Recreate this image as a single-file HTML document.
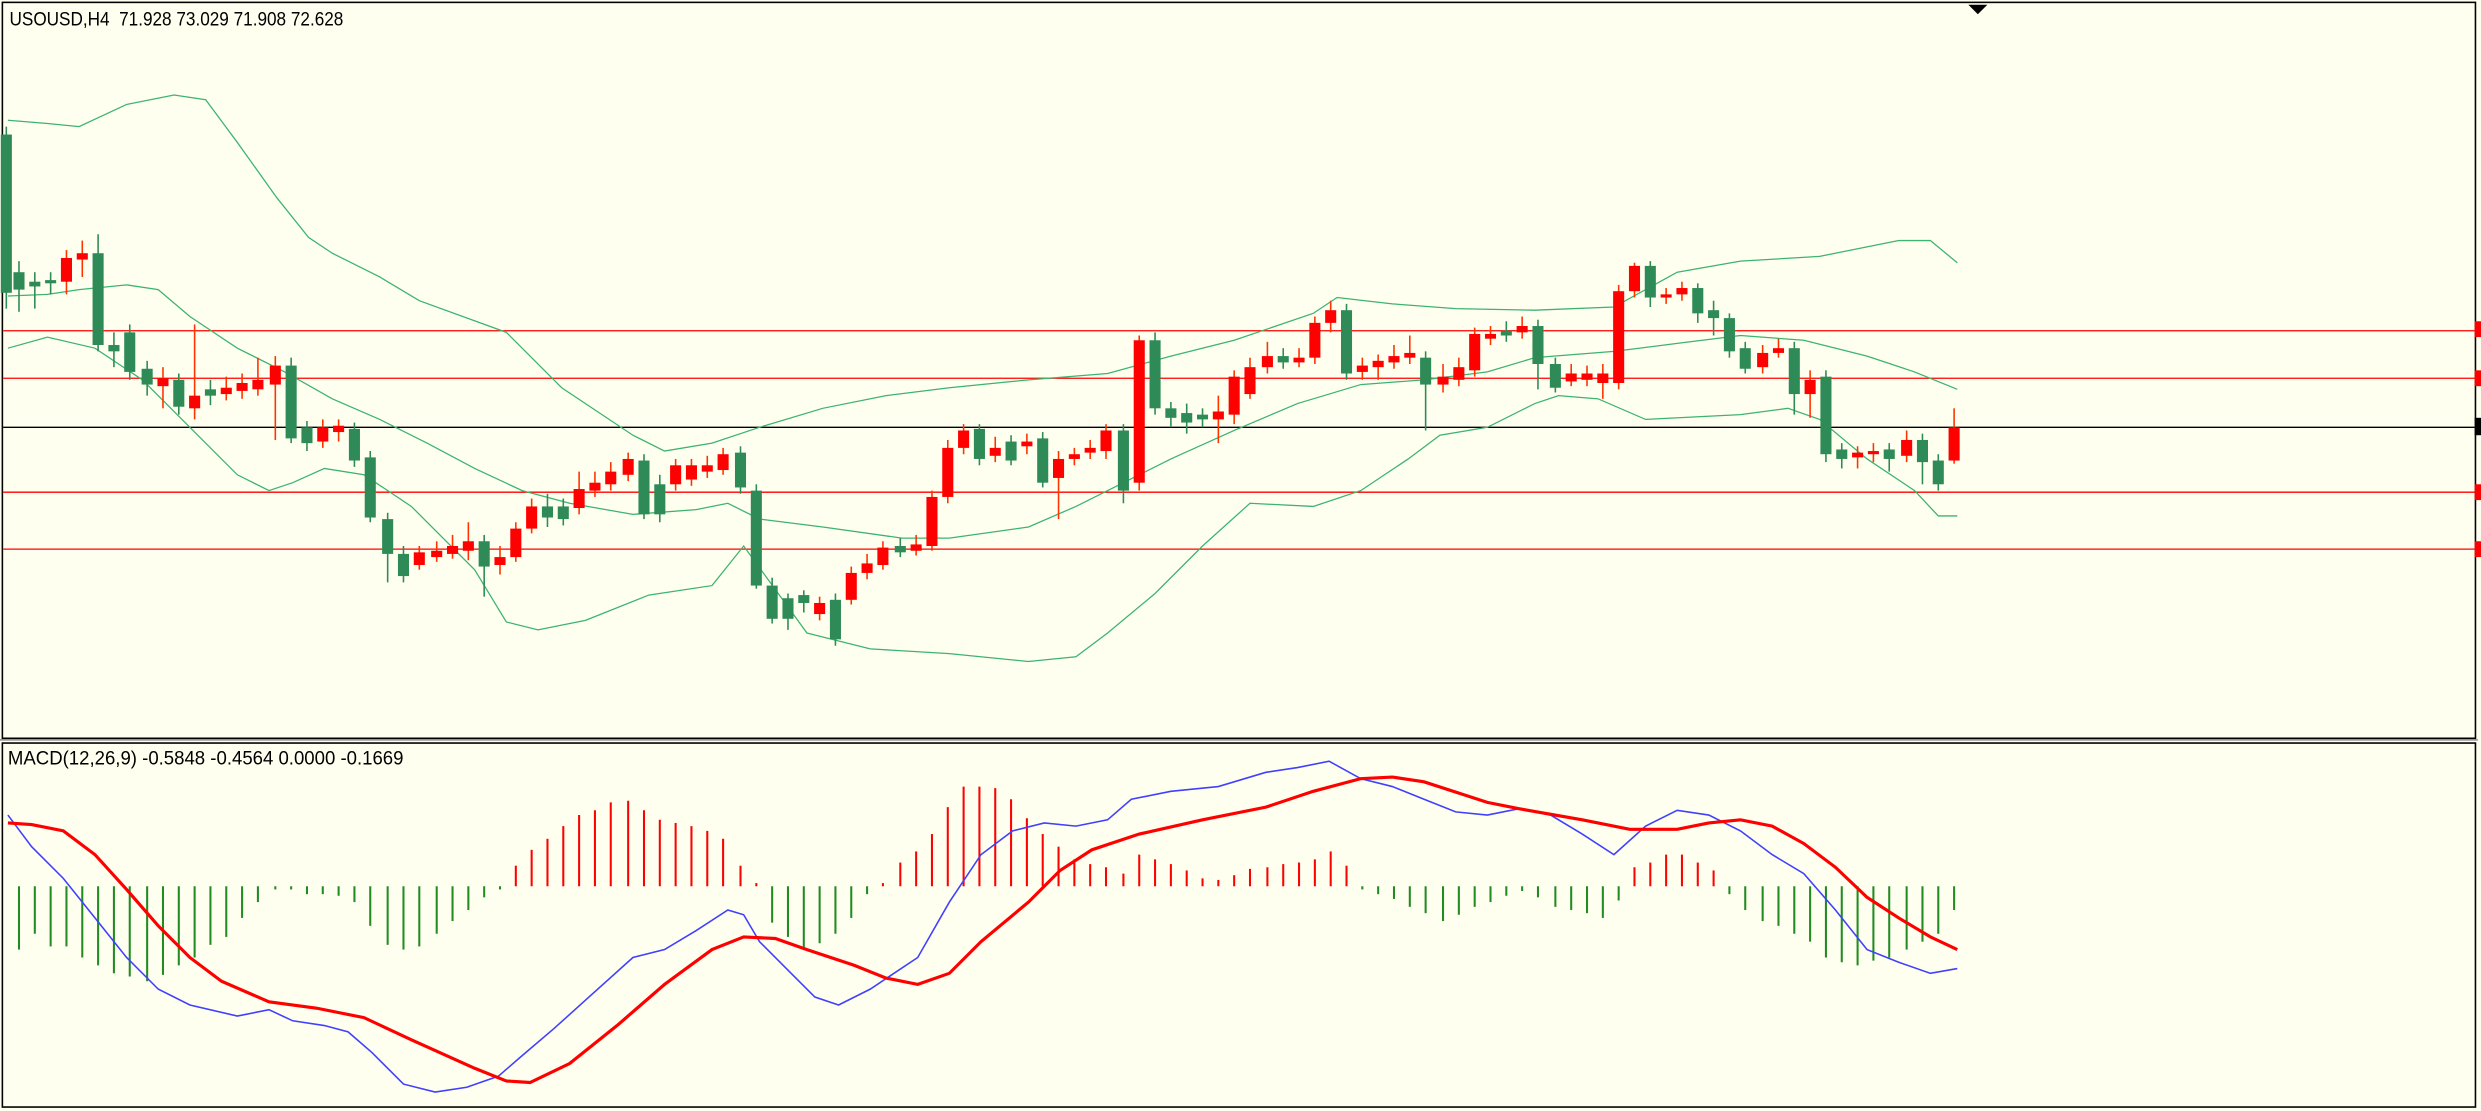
<!DOCTYPE html>
<html><head><meta charset="utf-8"><style>
html,body{margin:0;padding:0;background:#fffff0;}
svg{display:block;}
text{font-family:"Liberation Sans",sans-serif;font-size:12.5px;fill:#000;}
</style></head><body>
<svg id="s" width="2481" height="1111" viewBox="0 0 1568 702" preserveAspectRatio="none" xmlns="http://www.w3.org/2000/svg">
<rect x="0" y="0" width="1568" height="702" fill="#fffff0"/>
<rect x="1.5" y="1.5" width="1563" height="465" fill="none" stroke="#000" stroke-width="1"/>
<rect x="1.5" y="469.5" width="1563" height="230" fill="none" stroke="#000" stroke-width="1"/>
<line x1="0" y1="467.5" x2="1566" y2="467.5" stroke="#888" stroke-width="1"/>
<g stroke="#ff0000" stroke-width="0.8">
<line x1="2" y1="209" x2="1564" y2="209"/><line x1="2" y1="239" x2="1564" y2="239"/>
<line x1="2" y1="311" x2="1564" y2="311"/><line x1="2" y1="347" x2="1564" y2="347"/>
</g>
<line x1="2" y1="270" x2="1564" y2="270" stroke="#000" stroke-width="0.8"/>
<g fill="#ff0000"><rect x="1564" y="203" width="4" height="10"/><rect x="1564" y="234" width="4" height="10"/><rect x="1564" y="306" width="4" height="10"/><rect x="1564" y="342" width="4" height="10"/></g>
<rect x="1564" y="264" width="4" height="11" fill="#000"/>
<polygon points="1244,3 1256,3 1250,9" fill="#000"/>
<g id="bands" fill="none" stroke="#3cb371" stroke-width="0.8">
<polyline points="5,76 30,78 50,80 80,66 110,60 130,63 150,90 175,125 195,150 210,160 240,175 265,190 320,210 355,245 400,275 420,285 450,280 480,270 520,258 560,250 600,245 650,240 700,236 740,225 780,215 830,198 845,188 880,192 920,195 970,196 1020,194 1060,172 1100,165 1150,162 1200,152 1220,152 1237,166"/>
<polyline points="5,187 30,186 50,183 80,180 100,183 120,200 150,220 180,235 210,252 240,265 270,280 300,296 330,310 360,318 400,325 440,322 460,318 480,328 520,333 570,340 600,340 650,333 680,320 710,305 740,290 780,272 820,255 860,243 900,240 940,235 970,226 1020,222 1060,217 1100,212 1140,215 1180,225 1210,235 1237,246"/>
<polyline points="5,220 30,213 60,220 90,240 120,270 150,300 170,310 185,305 205,296 230,300 260,320 300,360 320,393 340,398 370,392 410,376 450,370 470,345 510,400 550,410 600,413 650,418 680,415 700,400 730,375 760,345 790,318 830,320 860,310 890,290 910,275 940,270 970,255 985,250 1010,252 1040,265 1100,262 1130,258 1150,265 1180,290 1210,310 1225,326 1237,326"/>
</g>
<g id="candles"></g>
<g id="hist"></g>
<polyline fill="none" stroke="#4040ff" stroke-width="1" points="5,515 20,535 40,555 60,580 80,605 100,625 120,635 150,642 170,638 185,645 205,648 220,652 235,665 255,685 275,690 295,687 315,680 330,667 350,650 370,632 400,605 420,600 440,588 460,575 470,578 480,595 500,615 515,630 530,635 550,625 580,605 600,570 620,540 640,525 660,520 680,522 700,518 715,505 740,500 770,497 800,488 820,485 840,481 860,492 880,497 900,505 920,513 940,515 960,511 980,515 1000,527 1020,540 1040,522 1060,512 1080,515 1100,525 1120,540 1140,552 1160,575 1180,600 1200,608 1220,615 1237,612"/>
<polyline fill="none" stroke="#ff0000" stroke-width="2" points="5,520 20,521 40,525 60,540 80,562 100,585 120,605 140,620 170,633 200,637 230,643 260,657 300,675 320,683 335,684 360,672 390,648 420,622 450,600 470,592 490,593 510,600 540,610 560,618 580,622 600,615 620,595 650,570 670,550 690,537 720,527 760,518 800,510 830,500 860,492 880,491 900,494 940,507 960,511 1000,518 1030,524 1060,524 1080,520 1100,518 1120,522 1140,533 1160,548 1180,567 1200,580 1220,592 1237,600"/>
<text x="6" y="16" textLength="211" lengthAdjust="spacingAndGlyphs" xml:space="preserve">USOUSD,H4  71.928 73.029 71.908 72.628</text>
<text x="5" y="483" textLength="250" lengthAdjust="spacingAndGlyphs">MACD(12,26,9) -0.5848 -0.4564 0.0000 -0.1669</text>
</svg>
<script>
var NS="http://www.w3.org/2000/svg";
var C=[[4,85,185,80,195],[12,172,183,165,197],[22,178,181,172,195],[32,177,179,172,186],[42,178,163,158,186],[52,164,160,152,175],[62,160,218,148,222],[72,218,222,210,232],[82,210,235,205,240],[93,233,243,228,250],[103,244,239,232,258],[113,240,257,236,262],[123,258,250,205,265],[133,246,250,240,256],[143,249,245,238,253],[153,247,242,236,252],[163,246,240,226,250],[174,243,231,225,278],[184,231,277,226,280],[194,270,280,266,285],[204,279,270,265,283],[214,273,269,265,279],[224,271,291,267,295],[234,289,327,285,330],[245,328,350,324,368],[255,350,364,345,368],[265,357,349,345,360],[276,352,348,342,355],[286,350,345,338,353],[296,348,342,330,354],[306,342,358,338,377],[316,357,352,345,363],[326,352,334,330,355],[336,334,320,315,337],[346,320,327,312,333],[356,320,328,315,332],[366,321,309,298,325],[376,310,305,298,314],[386,306,298,292,310],[397,300,290,286,304],[407,291,325,287,328],[417,306,325,300,330],[427,306,294,290,310],[437,303,294,290,307],[447,298,294,288,302],[457,297,287,283,300],[468,286,308,282,312],[478,310,370,306,372],[488,370,391,365,394],[498,378,391,375,398],[508,376,381,373,387],[518,388,381,377,392],[528,379,404,375,408],[538,379,362,358,382],[548,362,356,350,366],[558,357,346,342,360],[569,345,349,340,352],[579,348,344,338,351],[589,345,314,310,348],[599,314,283,278,318],[609,283,272,268,287],[619,271,290,268,294],[629,288,283,276,292],[639,279,291,275,294],[649,282,279,274,287],[659,277,305,273,308],[669,302,290,285,328],[679,290,287,283,294],[689,286,283,278,290],[699,285,272,268,290],[710,272,310,268,318],[720,305,215,212,310],[730,215,258,210,262],[740,258,264,254,270],[750,261,267,255,274],[760,262,265,258,270],[770,265,260,250,280],[780,262,238,234,268],[790,249,232,226,252],[801,232,225,216,236],[811,225,229,220,233],[821,229,226,220,232],[831,226,204,200,230],[841,204,196,190,210],[851,196,236,192,240],[861,235,231,226,240],[871,232,228,224,240],[881,229,225,218,233],[891,226,223,212,230],[901,226,243,222,272],[912,243,238,230,248],[922,240,232,226,244],[932,234,211,207,238],[942,214,211,206,218],[952,209,212,203,216],[962,210,206,200,214],[972,206,230,202,246],[983,230,245,226,248],[993,241,236,230,244],[1003,240,236,231,244],[1013,242,236,230,252],[1023,242,184,180,246],[1033,184,168,166,188],[1043,168,188,165,194],[1053,188,186,182,192],[1063,186,182,178,190],[1073,182,198,179,204],[1083,196,201,190,212],[1093,201,222,198,226],[1103,220,233,216,236],[1114,232,223,218,236],[1124,223,220,214,226],[1134,220,249,216,262],[1144,249,240,234,264],[1154,238,287,234,292],[1164,284,290,280,296],[1174,289,286,282,296],[1184,287,285,280,292],[1194,284,290,280,298],[1205,288,278,272,292],[1215,278,292,274,306],[1225,291,306,287,310],[1235,291,270,258,293]];
var g=document.getElementById("candles");
C.forEach(function(c){var x=c[0],o=c[1],cl=c[2],up=cl<o;var col=up?"#ff0000":"#2e8b57";
var l=document.createElementNS(NS,"line");l.setAttribute("x1",x);l.setAttribute("x2",x);l.setAttribute("y1",c[3]);l.setAttribute("y2",c[4]);l.setAttribute("stroke",up?"#ff3300":"#2e8b57");l.setAttribute("stroke-width","1");g.appendChild(l);
var r=document.createElementNS(NS,"rect");var t=Math.min(o,cl),h=Math.max(Math.abs(o-cl),1.5);r.setAttribute("x",x-3.5);r.setAttribute("y",t);r.setAttribute("width",7);r.setAttribute("height",h);r.setAttribute("fill",col);g.appendChild(r);});
var H=[[12,600],[22,590],[32,598],[42,598],[52,605],[62,610],[72,615],[82,617],[93,620],[103,616],[113,610],[123,605],[133,597],[143,592],[153,580],[163,570],[174,562],[184,562],[194,565],[204,565],[214,566],[224,570],[234,585],[245,597],[255,600],[265,598],[276,590],[286,582],[296,575],[306,567],[316,562],[326,547],[336,537],[346,530],[356,522],[366,515],[376,512],[386,507],[397,506],[407,512],[417,518],[427,520],[437,522],[447,525],[457,530],[468,547],[478,558],[488,583],[498,592],[508,600],[518,596],[528,590],[538,580],[548,565],[558,558],[569,545],[579,538],[589,527],[599,510],[609,497],[619,497],[629,498],[639,505],[649,517],[659,527],[669,535],[679,543],[689,546],[699,548],[710,552],[720,540],[730,543],[740,546],[750,550],[760,555],[770,556],[780,553],[790,549],[801,548],[811,546],[821,545],[831,543],[841,538],[851,547],[861,562],[871,565],[881,568],[891,573],[901,577],[912,582],[922,578],[932,573],[942,570],[952,566],[962,563],[972,567],[983,573],[993,575],[1003,577],[1013,580],[1023,569],[1033,548],[1043,545],[1053,540],[1063,540],[1073,545],[1083,550],[1093,565],[1103,575],[1114,582],[1124,585],[1134,590],[1144,595],[1154,605],[1164,608],[1174,610],[1184,607],[1194,605],[1205,600],[1215,595],[1225,590],[1235,575]];
var hg=document.getElementById("hist");
H.forEach(function(h){var l=document.createElementNS(NS,"line");l.setAttribute("x1",h[0]);l.setAttribute("x2",h[0]);l.setAttribute("y1",560);l.setAttribute("y2",h[1]);l.setAttribute("stroke",h[1]<560?"#ff0000":"#228b22");l.setAttribute("stroke-width","1.3");hg.appendChild(l);});
</script>
</body></html>
